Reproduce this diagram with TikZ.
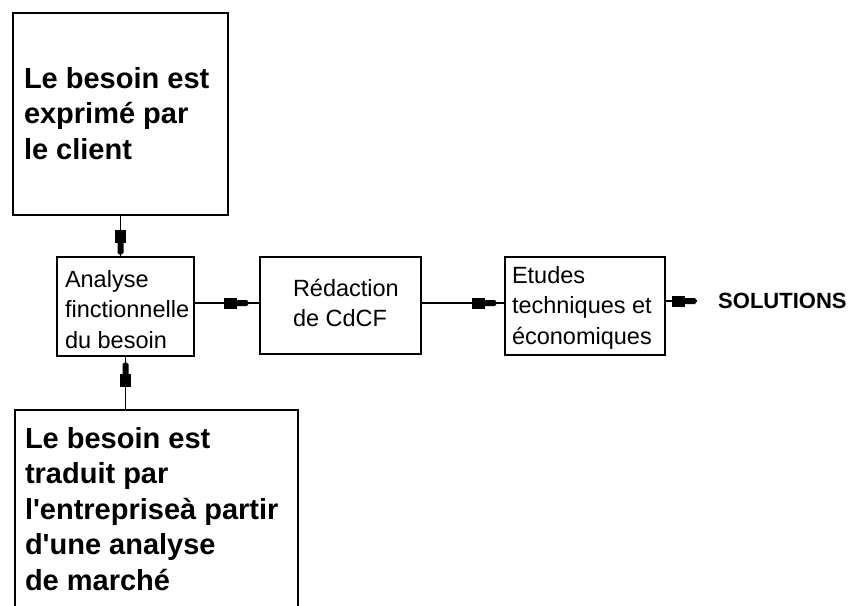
\documentclass[tikz,border=0pt]{standalone}
\usepackage{fontspec}
\setmainfont{Liberation Sans}
\usetikzlibrary{decorations.markings}

% Box contents: width, height, left padding, first baseline offset, text
\newcommand\boxcontent[5]{%
  \parbox[t][#2][t]{#1}{\raggedright\setlength\leftskip{#3}%
    \vspace*{\dimexpr#4-24pt\relax}\rule{0pt}{24pt}#5}}

% Block-shaped arrow head, tip at the origin, pointing along +x
\newcommand\headshape{%
  \fill (-25pt,-5.5pt) rectangle (-12pt,5.5pt);
  \fill (-12.5pt,-3pt) -- (-2pt,-3pt) -- (0pt,0pt) -- (-2pt,3pt) -- (-12.5pt,3pt) -- cycle;}

\tikzset{
  frame/.style={draw, line width=2pt, inner sep=0pt, outer sep=0pt, anchor=north west},
  bigtext/.style={font=\fontsize{29}{35.5}\selectfont\bfseries},
  smalltext/.style={font=\fontsize{23.5}{30.5}\selectfont},
  soltext/.style={font=\fontsize{22}{26}\selectfont\bfseries},
  link/.style={line width=1.8pt},
  tiphead/.style={postaction={decorate},
    decoration={markings, mark=at position #1 with {\headshape}}},
}

\begin{document}
\begin{tikzpicture}[x=1pt, y=-1pt]
  \useasboundingbox (0,0) rectangle (853,605);
  \clip (0,0) rectangle (853,605);

  % Boxes
  \node[frame, bigtext] (client) at (13,13)
    {\boxcontent{215pt}{202pt}{11pt}{75pt}{Le besoin est\\exprimé par\\le client}};
  \node[frame, smalltext] (analyse) at (57,257)
    {\boxcontent{137pt}{99pt}{8pt}{30pt}{Analyse\\finctionnelle\\du besoin}};
  \node[frame, smalltext] (redaction) at (260,257)
    {\boxcontent{161pt}{97pt}{33pt}{39pt}{Rédaction\\de CdCF}};
  \node[frame, smalltext] (etudes) at (505,257)
    {\boxcontent{160pt}{98pt}{7pt}{26pt}{Etudes\\techniques et\\économiques}};
  \node[frame, bigtext] (marche) at (15,410)
    {\boxcontent{283pt}{230pt}{10pt}{38pt}{Le besoin est\\traduit par\\l\textquotesingle entrepriseà partir\\d\textquotesingle une analyse\\de marché}};
  \node[soltext, anchor=west, inner sep=0pt] (solutions) at (718,301) {SOLUTIONS};
  \coordinate (solend) at (697,301);

  % Connectors
  \draw[link, tiphead=-2pt] (client.south) -- (client.south |- analyse.north);
  \draw[link, tiphead=-6pt] (marche.north -| analyse.south) -- (analyse.south);
  \draw[link, tiphead=-11pt] ([yshift=3.5pt]analyse.east) -- ([yshift=3.5pt]analyse.east -| redaction.west);
  \draw[link, tiphead=-8pt] ([yshift=2.5pt]redaction.east) -- ([yshift=2.5pt]redaction.east -| etudes.west);
  \draw[link, tiphead=0.9999] (etudes.east |- solend) -- (solend);
\end{tikzpicture}
\end{document}
